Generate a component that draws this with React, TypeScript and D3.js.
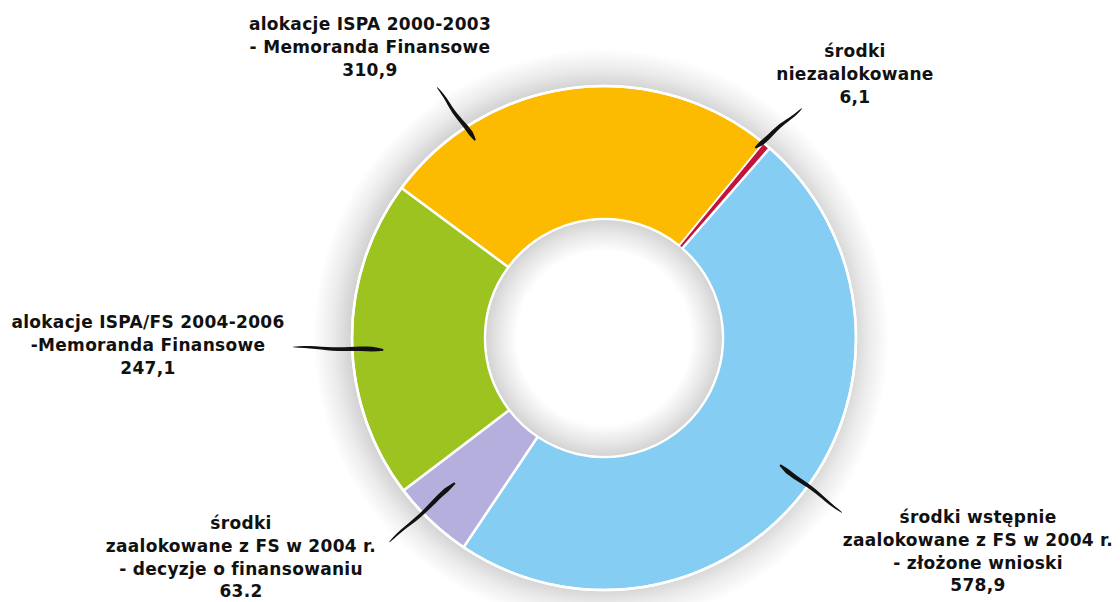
import React from "react";
import * as d3 from "d3";

// ---- data ----
const categories = [
  "alokacje ISPA 2000-2003 - Memoranda Finansowe",
  "środki niezaalokowane",
  "środki wstępnie zaalokowane z FS w 2004 r. - złożone wnioski",
  "środki zaalokowane z FS w 2004 r. - decyzje o finansowaniu",
  "alokacje ISPA/FS 2004-2006 -Memoranda Finansowe",
];
const values = [310.9, 6.1, 578.9, 63.2, 247.1];
const labelLines = [
  ["alokacje ISPA 2000-2003", "- Memoranda Finansowe"],
  ["środki", "niezaalokowane"],
  ["środki wstępnie", "zaalokowane z FS w 2004 r.", "- złożone wnioski"],
  ["środki", "zaalokowane z FS w 2004 r.", "- decyzje o finansowaniu"],
  ["alokacje ISPA/FS 2004-2006", "-Memoranda Finansowe"],
];
const valueLabels = ["310,9", "6,1", "578,9", "63.2", "247,1"];

// ---- styles / layout ----
const colors = ["#FCBB00", "#C3133A", "#86CDF3", "#B5AFDD", "#9CC31F"];
const labelPos = [
  { x: 370, y: 30 },
  { x: 855, y: 57 },
  { x: 978, y: 523 },
  { x: 241, y: 529 },
  { x: 148, y: 328 },
];
// leader: [angle deg (clockwise from north), inner radius, outer angle, outer radius]
const leaders = [
  [-33.1, 236, -33.7, 301],
  [38.5, 243, 40.7, 303],
  [125.8, 217, 126.2, 295],
  [225.8, 208, 226.4, 296],
  [266.9, 221, 268.3, 311],
];

const W = 1120;
const H = 602;
const cx = 604;
const cy = 338;
const R = 252;
const r0 = 119;
const lineH = 22.8;

function polar(angDeg: number, rad: number): [number, number] {
  const a = (angDeg * Math.PI) / 180;
  return [cx + rad * Math.sin(a), cy - rad * Math.cos(a)];
}

function leaderPath(l: number[]): string {
  const [x0, y0] = polar(l[0], l[1]);
  const [x1, y1] = polar(l[2], l[3]);
  const dx = x1 - x0;
  const dy = y1 - y0;
  const len = Math.hypot(dx, dy);
  const nx = -dy / len;
  const ny = dx / len;
  const n = 16;
  const left: [number, number][] = [];
  const right: [number, number][] = [];
  for (let i = 0; i <= n; i++) {
    const t = i / n;
    const hw = 2.2 * Math.pow(1 - t, 0.6) * Math.min(1, t * 6 + 0.25) + 0.35;
    const wob = Math.sin(t * 9) * 0.6;
    const px = x0 + dx * t + nx * wob;
    const py = y0 + dy * t + ny * wob;
    left.push([px + nx * hw, py + ny * hw]);
    right.push([px - nx * hw, py - ny * hw]);
  }
  const pts = left.concat(right.reverse());
  return (d3.line()(pts) || "") + "Z";
}

export default function App() {
  const start = (-53.5 * Math.PI) / 180;
  const pie = d3
    .pie<number>()
    .sort(null)
    .startAngle(start)
    .endAngle(start + 2 * Math.PI);
  const arcs = pie(values);
  const arc = d3.arc<d3.PieArcDatum<number>>().innerRadius(r0).outerRadius(R);

  return (
    <svg
      width={W}
      height={H}
      style={{ position: "absolute", left: 0, top: 0, background: "#fff" }}
      fontFamily="'DejaVu Sans', sans-serif"
    >
      <defs>
        <radialGradient id="outerShadow" cx="0.5" cy="0.5" r="0.5">
          <stop offset="0.87" stopColor="#d2d2d2" />
          <stop offset="0.93" stopColor="#ebebeb" />
          <stop offset="1" stopColor="#ffffff" />
        </radialGradient>
        <radialGradient id="innerShadow" cx="0.5" cy="0.5" r="0.5">
          <stop offset="0.74" stopColor="#ffffff" />
          <stop offset="0.9" stopColor="#e6e6e6" />
          <stop offset="1" stopColor="#d4d4d4" />
        </radialGradient>
      </defs>
      <rect width={W} height={H} fill="#fff" />
      <circle cx={cx - 3} cy={cy - 1} r={R + 36} fill="url(#outerShadow)" />
      <g transform={`translate(${cx},${cy})`}>
        {arcs.map((a, i) => (
          <path
            key={categories[i]}
            d={arc(a) || ""}
            fill={colors[i]}
            stroke="#fff"
            strokeWidth={i === 1 ? 1.2 : 2.5}
            strokeLinejoin="round"
          />
        ))}
        <circle r={r0 - 1.5} fill="url(#innerShadow)" />
        <circle r={R} fill="none" stroke="#fff" strokeWidth={2.5} />
      </g>
      {leaders.map((l, i) => (
        <path key={"ld" + i} d={leaderPath(l)} fill="#111" />
      ))}
      {labelLines.map((lines, i) => (
        <text
          key={"lb" + i}
          x={labelPos[i].x}
          y={labelPos[i].y}
          textAnchor="middle"
          fontSize={17}
          fontWeight="bold"
          letterSpacing={0.3}
          fill="#111"
        >
          {lines.concat([valueLabels[i]]).map((s, j) => (
            <tspan key={j} x={labelPos[i].x} y={labelPos[i].y + j * lineH}>
              {s}
            </tspan>
          ))}
        </text>
      ))}
    </svg>
  );
}
